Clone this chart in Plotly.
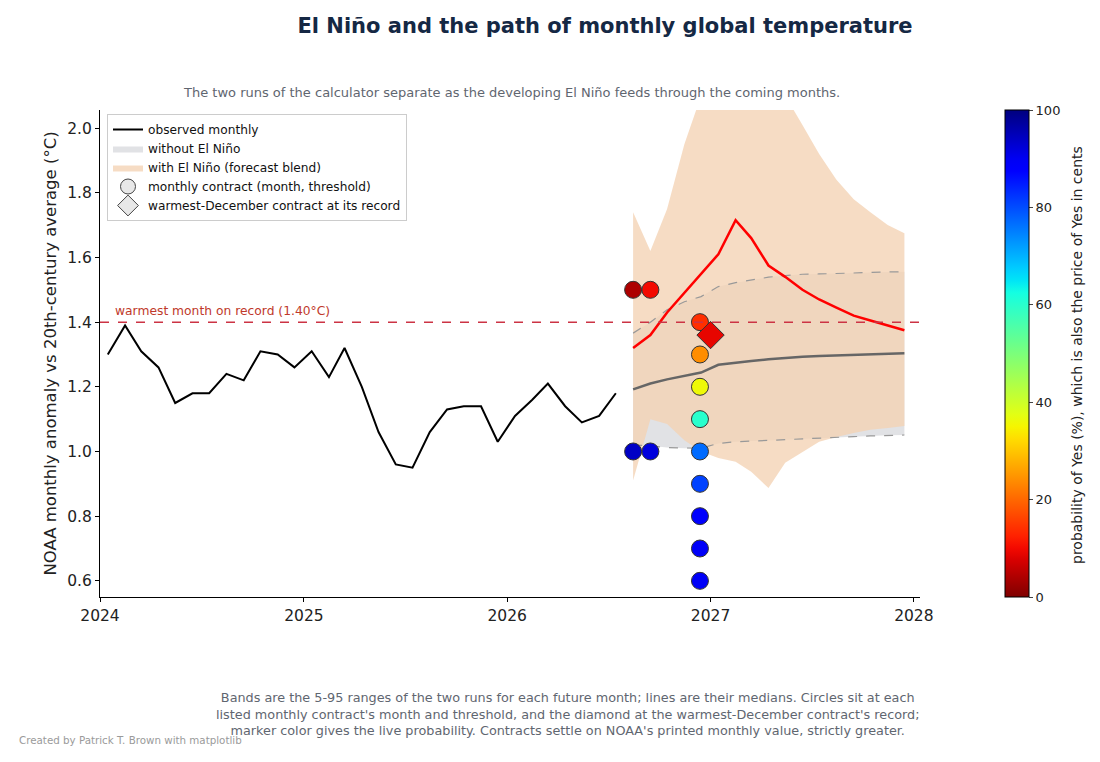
import numpy as np
import pandas as pd
import plotly.graph_objects as go

# Observed NOAA monthly anomalies, Jan 2024 - Jul 2026
observed = [1.30, 1.39, 1.31, 1.26, 1.15, 1.18, 1.18, 1.24, 1.22, 1.31, 1.30, 1.26,
            1.31, 1.23, 1.32, 1.20, 1.06, 0.96, 0.95, 1.06, 1.13, 1.14, 1.14, 1.03,
            1.11, 1.16, 1.21, 1.14, 1.09, 1.11, 1.18]

# Forecast months Aug 2026 - Dec 2027
with_median = [1.32, 1.36, 1.43, 1.49, 1.55, 1.61, 1.715, 1.66, 1.575, 1.54, 1.50,
               1.47, 1.445, 1.42, 1.405, 1.39, 1.375]
with_low = [0.91, 1.10, 1.085, 1.035, 1.00, 0.98, 0.968, 0.937, 0.887, 0.965, 0.998,
            1.03, 1.045, 1.057, 1.067, 1.073, 1.079]
with_high = [1.74, 1.62, 1.75, 1.95, 2.10, 2.25, 2.30, 2.28, 2.20, 2.10, 2.01,
             1.92, 1.84, 1.78, 1.74, 1.70, 1.675]
without_median = [1.192, 1.21, 1.223, 1.234, 1.244, 1.268, 1.275, 1.28, 1.285, 1.29,
                  1.293, 1.295, 1.297, 1.299, 1.30, 1.301, 1.304]
without_low = [1.02, 1.018, 1.012, 1.01, 1.01, 1.025, 1.03, 1.032, 1.034, 1.036,
               1.039, 1.042, 1.044, 1.046, 1.048, 1.05, 1.051]
without_high = [1.366, 1.40, 1.438, 1.463, 1.479, 1.51, 1.522, 1.53, 1.539, 1.544,
                1.548, 1.549, 1.551, 1.553, 1.554, 1.555, 1.556]

# Monthly contracts: month, threshold, probability of Yes (%)
contract_month = ['2026-08-15', '2026-08-15', '2026-09-15', '2026-09-15',
                  '2026-12-13', '2026-12-13', '2026-12-13', '2026-12-13', '2026-12-13',
                  '2026-12-13', '2026-12-13', '2026-12-13', '2026-12-13']
contract_threshold = [1.5, 1.0, 1.5, 1.0, 1.4, 1.3, 1.2, 1.1, 1.0, 0.9, 0.8, 0.7, 0.6]
contract_prob = [4, 94, 10, 92, 14, 24, 36, 60, 77, 81, 88, 89, 89]

# Warmest-December contract
dec_date = ['2027-01-01']
dec_record = [1.36]
dec_prob = [9]

record_value = 1.40

obs_dates = pd.date_range('2024-01-01', periods=len(observed), freq='MS') + pd.Timedelta(days=14)
fc_dates = pd.date_range('2026-08-01', periods=len(with_median), freq='MS') + pd.Timedelta(days=14)
fc_x = list(fc_dates)

# matplotlib "jet" segment data, reversed so 0 = dark red and 100 = dark navy
t = np.linspace(0, 1, 41)
r = np.interp(t, [0, 0.35, 0.66, 0.89, 1], [0, 0, 1, 1, 0.5])
g = np.interp(t, [0, 0.125, 0.375, 0.64, 0.91, 1], [0, 0, 1, 1, 0, 0])
b = np.interp(t, [0, 0.11, 0.34, 0.65, 1], [0.5, 1, 1, 0, 0])
jet_r = [[1 - tt, 'rgb(%d,%d,%d)' % (rr * 255, gg * 255, bb * 255)]
         for tt, rr, gg, bb in zip(t, r, g, b)][::-1]

# the page body has an 8px margin, so the figure is nudged up/left by that
L, T = 92, 102
W_PLOT, H_PLOT = 820, 487

fig = go.Figure()

# without El Nino band
fig.add_trace(go.Scatter(
    x=fc_x + fc_x[::-1], y=without_high + without_low[::-1],
    fill='toself', fillcolor='rgba(200,202,208,0.55)', line=dict(width=0),
    name='without El Niño', legendrank=2, hoverinfo='skip'))

# with El Nino band
fig.add_trace(go.Scatter(
    x=fc_x + fc_x[::-1], y=with_high + with_low[::-1],
    fill='toself', fillcolor='rgba(243,210,179,0.78)', line=dict(width=0),
    name='with El Niño (forecast blend)', legendrank=3, hoverinfo='skip'))

# band edges of the no-El-Nino run
for edge in (without_high, without_low):
    fig.add_trace(go.Scatter(x=fc_x, y=edge, mode='lines', showlegend=False,
                             line=dict(color='#999999', width=1.2, dash='dash')))

fig.add_trace(go.Scatter(x=fc_x, y=without_median, mode='lines', showlegend=False,
                         line=dict(color='#666666', width=2.5)))
fig.add_trace(go.Scatter(x=fc_x, y=with_median, mode='lines', showlegend=False,
                         line=dict(color='#ff0000', width=2.5)))

fig.add_trace(go.Scatter(x=list(obs_dates), y=observed, mode='lines',
                         name='observed monthly', legendrank=1,
                         line=dict(color='black', width=2)))

# contract markers
fig.add_trace(go.Scatter(
    x=contract_month, y=contract_threshold, mode='markers', showlegend=False,
    marker=dict(size=17, color=contract_prob, colorscale=jet_r, cmin=0, cmax=100,
                line=dict(color='#333333', width=1),
                colorbar=dict(x=(997 - L) / W_PLOT, xanchor='left', xpad=0,
                              y=0.5, len=1.0, ypad=0, thickness=24,
                              outlinewidth=1, outlinecolor='black',
                              tickvals=[0, 20, 40, 60, 80, 100], ticks='outside',
                              ticklen=4, tickfont=dict(size=13, color='#222')))))
fig.add_trace(go.Scatter(
    x=dec_date, y=dec_record, mode='markers', showlegend=False,
    marker=dict(symbol='diamond', size=21, color=dec_prob, colorscale=jet_r,
                cmin=0, cmax=100, line=dict(color='#333333', width=1))))

# legend-only entries
fig.add_trace(go.Scatter(x=[None], y=[None], mode='markers', legendrank=4,
                         name='monthly contract (month, threshold)',
                         marker=dict(size=15, color='#e8e8e8', line=dict(color='#444', width=1))))
fig.add_trace(go.Scatter(x=[None], y=[None], mode='markers', legendrank=5,
                         name='warmest-December contract at its record',
                         marker=dict(symbol='diamond', size=17, color='#e8e8e8',
                                     line=dict(color='#444', width=1))))

fig.add_hline(y=record_value, line=dict(color='#cc3344', width=1.5, dash='dash'))
fig.add_annotation(x=0.016, xref='paper', y=record_value, yref='y', yshift=11,
                   text='warmest month on record (1.40°C)', showarrow=False,
                   xanchor='left', font=dict(size=12.3, color='#c0392b'))

# colorbar label
fig.add_annotation(x=(1077 - 8 - L) / W_PLOT, xref='paper', y=1 - (355 - 110) / H_PLOT, yref='paper',
                   xanchor='center', yanchor='middle', textangle=-90, showarrow=False,
                   text='probability of Yes (%), which is also the price of Yes in cents',
                   font=dict(size=14, color='#222'))

fig.update_layout(
    width=1100, height=762,
    font=dict(family='DejaVu Sans', color='#222'),
    paper_bgcolor='white', plot_bgcolor='white',
    margin=dict(l=L, r=1100 - L - W_PLOT, t=T, b=762 - T - H_PLOT),
    title=dict(text='<b>El Niño and the path of monthly global temperature</b>',
               x=(605 - 8) / 1100, xanchor='center', y=1 - (26 - 8) / 762, yanchor='middle',
               font=dict(size=21, color='#152844')),
    showlegend=True,
    legend=dict(x=(107 - 100) / W_PLOT, y=1 - (114 - 110) / H_PLOT, xanchor='left', yanchor='top',
                bgcolor='rgba(255,255,255,0.9)', bordercolor='#cccccc', borderwidth=1,
                font=dict(size=12.2, color='#111'), tracegroupgap=0, itemwidth=30),
)

fig.update_xaxes(type='date', range=['2024-01-01', '2028-01-12'],
                 tickvals=['2024-01-01', '2025-01-01', '2026-01-01', '2027-01-01', '2028-01-01'],
                 ticktext=['2024', '2025', '2026', '2027', '2028'],
                 showgrid=False, zeroline=False, showline=True, linecolor='black',
                 linewidth=1, ticks='outside', ticklen=4, tickcolor='black',
                 tickfont=dict(size=15.5))
fig.update_yaxes(range=[0.55, 2.056], dtick=0.2, tick0=0.6, tickformat='.1f',
                 showgrid=False, zeroline=False, showline=True, linecolor='black',
                 linewidth=1, ticks='outside', ticklen=4, tickcolor='black',
                 tickfont=dict(size=15.5),
                 title=dict(text='NOAA monthly anomaly vs 20th-century average (°C)',
                            font=dict(size=16.5), standoff=6))

# subtitle
fig.add_annotation(x=(511 - 100) / W_PLOT, xref='paper', y=1 + (110 - 92) / H_PLOT, yref='paper',
                   xanchor='center', yanchor='middle',
                   text='The two runs of the calculator separate as the developing El Niño feeds through the coming months.',
                   showarrow=False, font=dict(size=13, color='#5f6670'))

# footnote
fig.add_annotation(x=(567 - 100) / W_PLOT, xref='paper', y=-(714 - 597) / H_PLOT, yref='paper',
                   xanchor='center', yanchor='middle', align='center',
                   text=("Bands are the 5-95 ranges of the two runs for each future month; lines are their medians. Circles sit at each<br>"
                         "listed monthly contract's month and threshold, and the diamond at the warmest-December contract's record;<br>"
                         "marker color gives the live probability. Contracts settle on NOAA's printed monthly value, strictly greater."),
                   showarrow=False, font=dict(size=12.8, color='#5f6670'))

# credit
fig.add_annotation(x=-(100 - 17) / W_PLOT, xref='paper', y=-(740 - 597) / H_PLOT, yref='paper',
                   xanchor='left', yanchor='middle', text='Created by Patrick T. Brown with matplotlib',
                   showarrow=False, font=dict(size=10.3, color='#9a9a9a'))

fig.write_html("out.html")
